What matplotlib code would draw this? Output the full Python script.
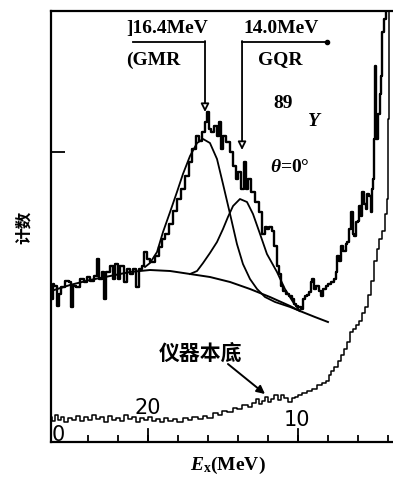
"""
89Y (alpha,alpha') spectrum at 0 deg: GMR / GQR decomposition and instrument background.
"""

import numpy as np
import matplotlib
matplotlib.use('Agg')
import matplotlib.pyplot as plt

plt.rcParams['mathtext.fontset'] = 'custom'
plt.rcParams['mathtext.it'] = 'Liberation Serif:bold:italic'
plt.rcParams['mathtext.rm'] = 'Liberation Serif:bold'

#measured spectrum, excitation energy (MeV) and counts (arb.)
main_e = [26.47, 26.40, 26.33, 26.20, 26.00, 25.87, 25.73, 25.40, 25.20, 25.07,
          24.87, 24.67, 24.40, 24.20, 24.00, 23.73, 23.53, 23.33, 23.20, 23.00,
          22.87, 22.67, 22.40, 22.33, 22.07, 22.00, 21.73, 21.53, 21.33, 21.07,
          20.87, 20.73, 20.53, 20.33, 20.20, 20.00, 19.73, 19.40, 19.20, 19.00,
          18.73, 18.53, 18.20, 17.87, 17.67, 17.40, 17.20, 16.87, 16.73, 16.53,
          16.33, 16.07, 16.00, 15.87, 15.73, 15.53, 15.33, 15.20, 15.07, 14.87,
          14.67, 14.40, 14.20, 14.07, 13.87, 13.73, 13.53, 13.40, 13.20, 13.00,
          12.73, 12.53, 12.33, 12.13, 12.00, 11.80, 11.67, 11.53, 11.33, 11.20,
          11.07, 10.87, 10.73, 10.53, 10.33, 10.20, 10.07, 9.87, 9.73, 9.60,
          9.53, 9.33, 9.20, 9.07, 9.00, 8.87, 8.67, 8.53, 8.40, 8.20,
          8.07, 7.87, 7.67, 7.53, 7.40, 7.33, 7.20, 7.07, 6.87, 6.73,
          6.67, 6.53, 6.40, 6.27, 6.20, 6.07, 5.93, 5.87, 5.73, 5.67,
          5.53, 5.40, 5.33, 5.20, 5.07, 5.00, 4.93, 4.87, 4.80, 4.73,
          4.60, 4.47, 4.40, 4.33, 4.20, 4.07]
main_c = [151, 143, 158, 156, 136, 148, 155, 161, 160, 135,
          156, 155, 163, 160, 165, 161, 166, 183, 163, 170,
          143, 170, 176, 163, 178, 163, 176, 160, 173, 168,
          173, 155, 173, 176, 190, 183, 180, 186, 195, 203,
          208, 218, 231, 243, 253, 266, 280, 293, 306, 301,
          310, 320, 330, 313, 310, 316, 306, 320, 293, 306,
          300, 290, 276, 263, 270, 253, 280, 253, 263, 250,
          240, 230, 208, 215, 213, 215, 211, 196, 176, 168,
          156, 151, 148, 146, 143, 138, 136, 135, 133, 143,
          146, 147, 150, 160, 163, 153, 156, 151, 146, 153,
          156, 158, 160, 163, 170, 186, 181, 196, 191, 198,
          200, 213, 230, 208, 206, 220, 221, 236, 226, 250,
          238, 233, 248, 246, 230, 253, 263, 303, 376, 303,
          328, 348, 366, 410, 423, 440]

#fitted curves
base_e = [26.47, 25.20, 23.87, 22.53, 21.20, 19.87, 18.53, 17.20, 15.87, 14.53,
          13.20, 11.87, 10.53, 9.87, 8.87, 8.00]
base_c = [151, 157, 162, 166, 170, 172, 171, 168, 165, 160,
          153, 145, 136, 131, 125, 120]

gmr_e = [20.20, 19.87, 19.40, 19.00, 18.53, 18.07, 17.67, 17.20, 16.73, 16.33,
         15.87, 15.40, 15.00, 14.53, 14.07, 13.67, 13.20, 12.73, 12.20, 11.53,
         10.53, 9.87]
gmr_c = [175, 179, 190, 210, 230, 250, 268, 286, 299, 303,
         299, 283, 258, 228, 198, 178, 163, 153, 145, 140,
         135, 131]

gqr_e = [17.20, 16.73, 16.33, 15.87, 15.40, 15.00, 14.67, 14.33, 13.87, 13.40,
         13.00, 12.53, 12.07, 11.40, 10.87, 10.33, 9.87]
gqr_c = [168, 171, 179, 189, 200, 213, 225, 236, 243, 240,
         228, 208, 188, 170, 153, 140, 131]

#instrument background (empty target run)
bg_e = [26.47, 26.27, 26.07, 25.87, 25.67, 25.47, 25.20, 24.93, 24.67, 24.40,
        24.13, 23.87, 23.60, 23.33, 23.07, 22.80, 22.53, 22.27, 22.00, 21.73,
        21.47, 21.20, 20.93, 20.67, 20.40, 20.13, 19.87, 19.60, 19.33, 19.07,
        18.80, 18.53, 18.20, 17.87, 17.53, 17.20, 16.87, 16.53, 16.20, 15.87,
        15.53, 15.20, 14.87, 14.53, 14.20, 13.87, 13.53, 13.20, 12.87, 12.67,
        12.47, 12.27, 12.07, 11.87, 11.67, 11.47, 11.20, 11.00, 10.80, 10.53,
        10.33, 10.07, 9.87, 9.53, 9.20, 8.87, 8.53, 8.20, 8.00, 7.87,
        7.67, 7.47, 7.20, 7.00, 6.80, 6.60, 6.40, 6.20, 6.00, 5.80,
        5.60, 5.40, 5.20, 5.00, 4.80, 4.67, 4.53, 4.33, 4.13, 4.00,
        3.93, 3.87]
bg_c = [25, 21, 27, 22, 25, 20, 24, 22, 26, 21,
        25, 22, 27, 23, 25, 20, 26, 22, 24, 21,
        27, 23, 25, 20, 24, 22, 25, 21, 23, 20,
        24, 21, 23, 20, 24, 22, 25, 23, 26, 24,
        29, 27, 31, 30, 34, 33, 37, 35, 39, 43,
        38, 41, 45, 40, 43, 47, 42, 47, 44, 40,
        44, 45, 47, 49, 51, 53, 57, 59, 61, 67,
        71, 75, 81, 87, 93, 100, 110, 113, 117, 121,
        129, 135, 147, 161, 181, 193, 203, 211, 228, 243,
        323, 433]

x_ticks = [24, 22, 20, 18, 16, 14, 12, 10, 8, 6, 4]

fig = plt.figure(figsize=(3.93, 4.81), dpi=100)
ax = fig.add_axes([51/393, 38/481, 341/393, 431/481])

ax.plot(main_e, main_c, color='k', lw=1.7, drawstyle='steps-mid')
ax.plot(base_e, base_c, color='k', lw=1.4)
ax.plot(gmr_e, gmr_c, color='k', lw=1.3)
ax.plot(gqr_e, gqr_c, color='k', lw=1.3)
ax.plot(bg_e, bg_c, color='k', lw=1.1, drawstyle='steps-mid')

ax.set_xlim(26.47, 3.73)
ax.set_ylim(0, 431)

for s in ['left', 'bottom', 'top']:
    ax.spines[s].set_linewidth(1.6)
ax.spines['right'].set_visible(False)

ax.set_xticks(x_ticks)
ax.set_xticklabels([])
ax.tick_params(axis='x', direction='in', length=5, width=1.3)
ax.set_yticks([290])
ax.set_yticklabels([])
ax.tick_params(axis='y', direction='in', length=10, width=1.3)
ax.tick_params(top=False, right=False)

#longer ticks at the labelled energies
for e in [20, 10]:
    ax.plot([e, e], [0, 13], color='k', lw=1.3)

serif = dict(family='Liberation Serif', fontweight='bold', fontsize=14, color='k')
sans = dict(family='DejaVu Sans', fontsize=15, color='k')

ax.text(20.0, 35, '20', ha='center', va='center', **sans)
ax.text(10.07, 23, '10', ha='center', va='center', **sans)
ax.text(26.0, 8, '0', ha='center', va='center', **sans)

#GMR marker
ax.text(21.45, 415, ']16.4MeV', ha='left', va='center', **serif)
ax.text(21.45, 383, '(GMR', ha='left', va='center', **serif)
ax.plot([21.0, 16.2], [400, 400], color='k', lw=1.3)
ax.annotate('', xy=(16.2, 330), xytext=(16.2, 401),
            arrowprops=dict(arrowstyle='-|>', fc='white', ec='k', lw=1.3,
                            mutation_scale=12, shrinkA=0, shrinkB=0))

#GQR marker
ax.text(13.67, 415, '14.0MeV', ha='left', va='center', **serif)
ax.text(12.67, 383, 'GQR', ha='left', va='center', **serif)
ax.plot([13.73, 8.07], [400, 400], color='k', lw=1.3)
ax.plot([8.07], [400], 'ko', ms=3)
ax.annotate('', xy=(13.73, 292), xytext=(13.73, 401),
            arrowprops=dict(arrowstyle='-|>', fc='white', ec='k', lw=1.3,
                            mutation_scale=12, shrinkA=0, shrinkB=0))

ax.text(11.67, 340, '89', ha='left', va='center', **serif)
ax.text(9.4, 321, '$Y$', ha='left', va='center', **serif)
ax.text(11.87, 275, r'$\theta$=0°', ha='left', va='center', **serif)

ax.text(16.5, 90, '仪器本底', ha='center', va='center',
        family=['Noto Sans CJK SC', 'DejaVu Sans'], fontsize=15, fontweight='bold')
ax.annotate('', xy=(12.2, 48), xytext=(14.67, 78),
            arrowprops=dict(arrowstyle='-|>', fc='k', ec='k', lw=1.4,
                            mutation_scale=12, shrinkA=0, shrinkB=0))

fig.text(228/393, 1 - 465/481, r'$E_{\rm x}$(MeV)', ha='center', va='center', **serif)
fig.text(24/393, 1 - 227/481, '计数', ha='center', va='center', rotation=90,
         family=['Noto Sans CJK SC', 'DejaVu Sans'], fontsize=12, fontweight='bold')

fig.savefig('out.png', dpi=100)
